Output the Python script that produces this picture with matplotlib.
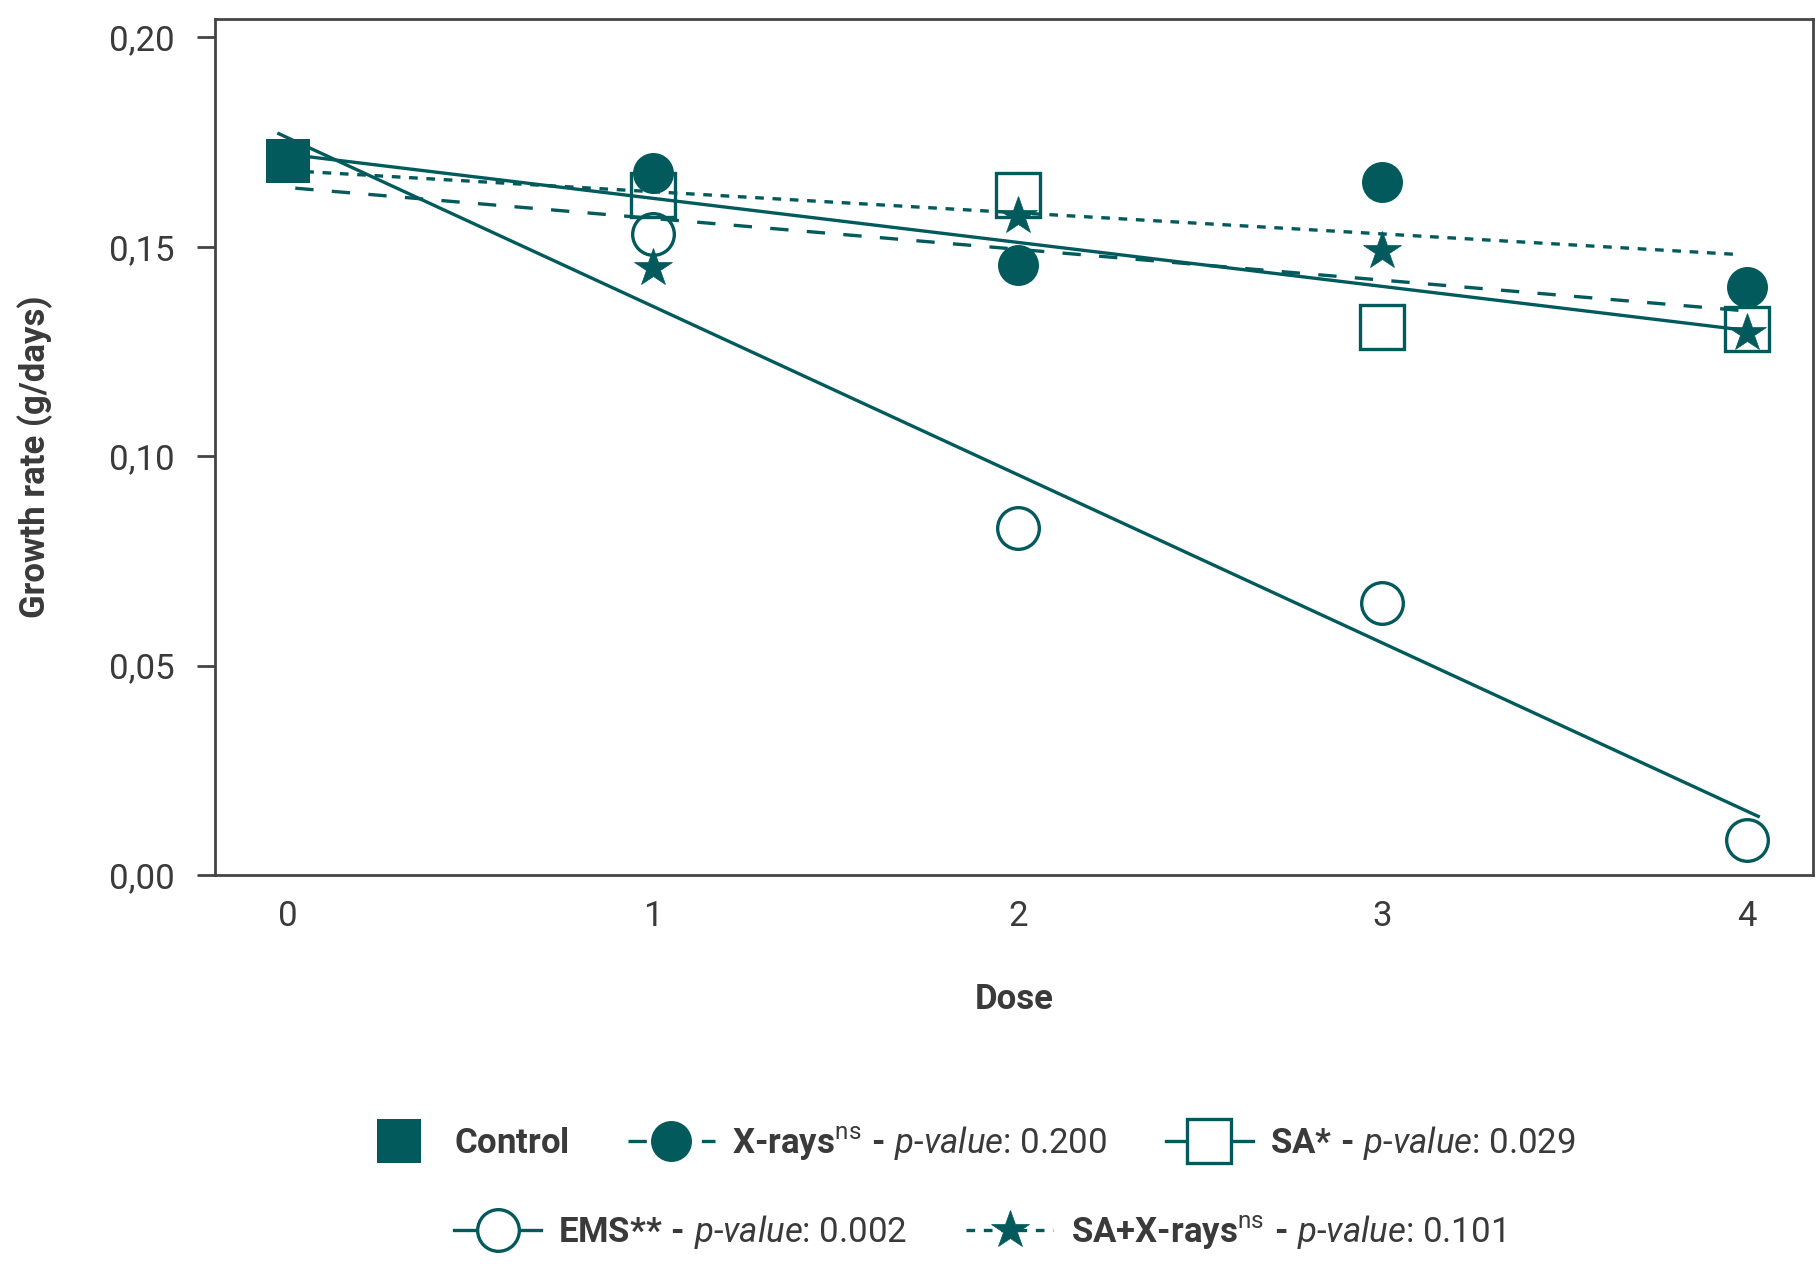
import matplotlib
matplotlib.use('Agg')
import matplotlib.pyplot as plt
from matplotlib.lines import Line2D
from matplotlib.legend_handler import HandlerLine2D
import numpy as np

plt.rcParams['font.family'] = ['Roboto', 'DejaVu Sans']
plt.rcParams['mathtext.fontset'] = 'custom'
plt.rcParams['mathtext.rm'] = 'Roboto'
plt.rcParams['mathtext.it'] = 'Roboto:italic'
plt.rcParams['mathtext.bf'] = 'Roboto:bold'

teal = '#025a5c'
ink = '#3a3a3a'
spine_col = '#444444'

# growth rate (g/days)
doses = [1, 2, 3, 4]
control_dose = [0]
control_rate = [0.1706]
xrays = [0.1677, 0.1456, 0.1655, 0.1405]
sa = [0.1624, 0.1624, 0.1308, 0.1303]
ems = [0.1531, 0.0828, 0.0649, 0.0084]
sa_xrays = [0.1450, 0.1573, 0.1491, 0.1295]

# trend lines as drawn: intercept, slope, first dose, last dose
trend_xrays = [0.1682, -0.00504, 0.0, 3.98]
trend_sa = [0.1721, -0.01052, 0.0, 4.0]
trend_ems = [0.1760, -0.0402, -0.025, 4.03]
trend_sa_xrays = [0.16415, -0.00737, 0.02, 4.0]

x_ticks = [0, 1, 2, 3, 4]
y_ticks = [0.0, 0.05, 0.10, 0.15, 0.20]
y_tick_labels = ['0,00', '0,05', '0,10', '0,15', '0,20']

# "{*}" / "{+}" keeps mathtext from spacing them as operators
labels_row1 = [
    r'$\mathbf{Control}$',
    r'$\mathbf{X‐rays}^{\mathrm{ns}}\mathbf{\ ‐\ }\mathit{p‐value}\text{: 0.200}$',
    r'$\mathbf{SA{*}\ ‐\ }\mathit{p‐value}\text{: 0.029}$',
]
labels_row2 = [
    r'$\mathbf{EMS{*}{*}\ ‐\ }\mathit{p‐value}\text{: 0.002}$',
    r'$\mathbf{SA{+}X‐rays}^{\mathrm{ns}}\mathbf{\ ‐\ }\mathit{p‐value}\text{: 0.101}$',
]


def trend(ax, coef, style):
    a, b, x0, x1 = coef
    xs = np.array([x0, x1])
    ax.plot(xs, a + b * xs, color=teal, lw=2.4, linestyle=style, zorder=2)


fig = plt.figure(figsize=(18.2, 12.78), dpi=100)
ax = fig.add_axes([215 / 1820, 1 - 875 / 1278, 1598 / 1820, 856 / 1278])

dotted = (0, (2.6, 2.6))
dashed = (0, (5.5, 5.5))

trend(ax, trend_xrays, dotted)
trend(ax, trend_sa, '-')
trend(ax, trend_ems, '-')
trend(ax, trend_sa_xrays, dashed)

ax.plot(control_dose, control_rate, ls='none', marker='s', ms=31, color=teal, mew=0, zorder=3)
ax.plot(doses, xrays, ls='none', marker='o', ms=29.5, color=teal, mew=0, zorder=3)
ax.plot(doses, sa, ls='none', marker='s', ms=31.5, mfc='none', mec=teal, mew=2.4, zorder=3)
ax.plot(doses, ems, ls='none', marker='o', ms=30, mfc='none', mec=teal, mew=2.4, zorder=3)
ax.plot(doses, sa_xrays, ls='none', marker='*', ms=29, color=teal, mew=0.5, zorder=4)

ax.set_xlim(-0.2, 4.18)
ax.set_ylim(0, 0.2044)
ax.set_xticks(x_ticks)
ax.set_yticks(y_ticks)
ax.set_yticklabels(y_tick_labels)

for s in ax.spines.values():
    s.set_color(spine_col)
    s.set_linewidth(2)

ax.tick_params(axis='y', length=13, width=2, color=spine_col, pad=16,
               labelsize=25, labelcolor=ink)
ax.tick_params(axis='x', length=0, pad=18, labelsize=25, labelcolor=ink)

ax.set_ylabel('Growth rate (g/days)', fontsize=25, fontweight='bold', color=ink)
ax.yaxis.set_label_coords(-0.1126, 0.489)
ax.yaxis.label.set_va('center')
ax.set_xlabel('Dose', fontsize=25, fontweight='bold', color=ink)
ax.xaxis.set_label_coords(0.5, -0.1449)
ax.xaxis.label.set_va('center')

# legend handles follow the key as printed under the chart
h_control = Line2D([], [], ls='none', marker='s', ms=31, color=teal, mew=0)
h_xrays = Line2D([], [], ls=dashed, lw=2.4, marker='o', ms=29.5, color=teal, mew=0)
h_sa = Line2D([], [], ls='-', lw=2.4, marker='s', ms=31.5, color=teal, mfc='white', mew=2.4)
h_ems = Line2D([], [], ls='-', lw=2.4, marker='o', ms=30, color=teal, mfc='white', mew=2.4)
h_sax = Line2D([], [], ls=dotted, lw=2.4, marker='*', ms=29, color=teal, mew=0.5)

leg_kw = dict(loc='center', frameon=False, fontsize=25, handlelength=2.5,
              handletextpad=0.5, columnspacing=1.7, labelcolor=ink)
# control square sits closer to its text
fig.legend(handles=[h_control, h_xrays, h_sa], labels=labels_row1, ncol=3,
           bbox_to_anchor=(0.529, 0.1056),
           handler_map={h_control: HandlerLine2D(xpad=0.32)}, **leg_kw)
fig.legend(handles=[h_ems, h_sax], labels=labels_row2, ncol=2,
           bbox_to_anchor=(0.538, 0.036), **leg_kw)

fig.savefig('out.png', dpi=100)
